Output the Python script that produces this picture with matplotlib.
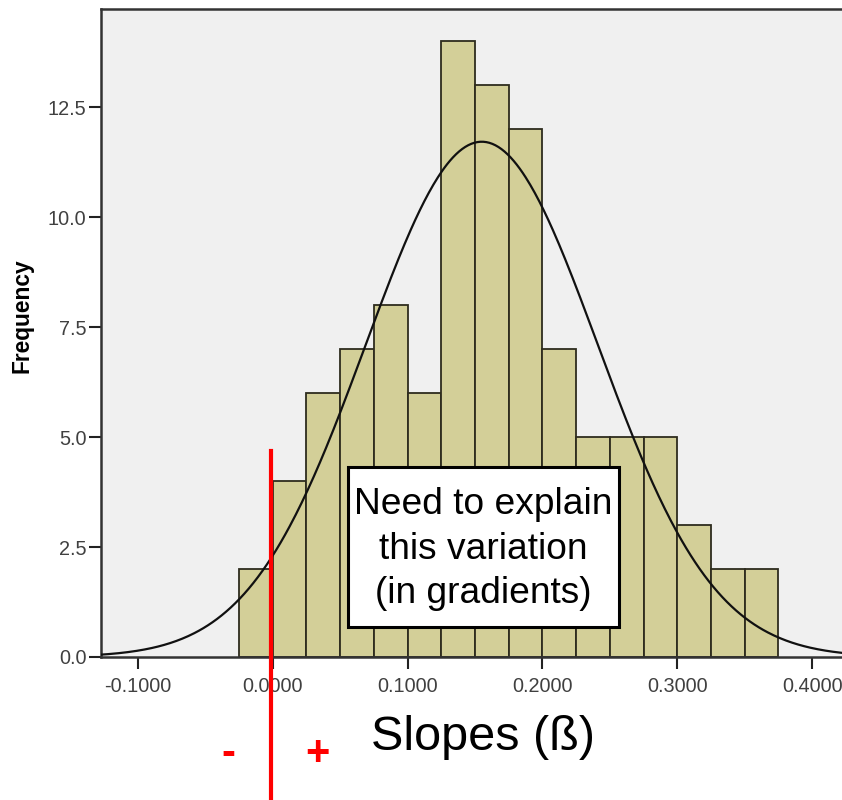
import numpy as np
import matplotlib
matplotlib.use("Agg")
import matplotlib.pyplot as plt
import matplotlib.transforms as mtransforms
from matplotlib.lines import Line2D
from matplotlib.patches import Rectangle

plt.rcParams['font.family'] = ['Liberation Sans', 'DejaVu Sans']

# histogram of slopes (bin width 0.025)
bin_edges = [-0.025, 0.0, 0.025, 0.05, 0.075, 0.1, 0.125, 0.15, 0.175,
             0.2, 0.225, 0.25, 0.275, 0.3, 0.325, 0.35, 0.375]
counts = [2, 4, 6, 7, 8, 6, 14, 13, 12, 7, 5, 5, 5, 3, 2, 2]

# fitted normal curve
curve_mean = 0.155
curve_sd = 0.086
n_obs = sum(counts)

x_ticks = [-0.1, 0.0, 0.1, 0.2, 0.3, 0.4]
y_ticks = [0.0, 2.5, 5.0, 7.5, 10.0, 12.5]

fig = plt.figure(figsize=(8.42, 8), dpi=100)
ax = fig.add_axes([101 / 842, 143 / 800, 744 / 842, 648 / 800])
ax.set_facecolor('#f0f0f0')

bw = bin_edges[1] - bin_edges[0]
ax.bar(bin_edges[:-1], counts, width=bw, align='edge',
       color='#d3cf98', edgecolor='#2e2c1e', linewidth=1.3, zorder=2)

xs = np.linspace(-0.13, 0.43, 500)
ys = n_obs * bw / (curve_sd * np.sqrt(2 * np.pi)) * np.exp(-0.5 * ((xs - curve_mean) / curve_sd) ** 2)
ax.plot(xs, ys, color='#111111', linewidth=1.6, zorder=3)

ax.set_xlim(-0.1274, 0.4244)
ax.set_ylim(0, 14.73)
ax.set_xticks(x_ticks)
ax.set_xticklabels([f"{v:.4f}" for v in x_ticks])
ax.set_yticks(y_ticks)
ax.set_yticklabels([f"{v:.1f}" for v in y_ticks])
ax.tick_params(axis='both', direction='out', length=8.6, width=1.5,
               color='#222222', labelsize=14.3, labelcolor='#404040')
ax.tick_params(axis='x', pad=5.5)
ax.tick_params(axis='y', pad=2)
for side in ['left', 'bottom', 'top', 'right']:
    ax.spines[side].set_color('#333333')
    ax.spines[side].set_linewidth(1.8)

fig.text(22 / 842, 1 - 316 / 800, 'Frequency', fontsize=16.4, fontweight='bold',
         rotation=90, ha='center', va='center')

# annotation box
ax.add_patch(Rectangle((0.0556, 0.68), 0.2015, 3.64, facecolor='white',
                       edgecolor='black', linewidth=2.2, zorder=5))
ax.text(0.1563, 2.45, 'Need to explain\nthis variation\n(in gradients)',
        ha='center', va='center', fontsize=26.7, color='black', zorder=6,
        linespacing=1.36)

# red zero line running below the axis
trans = mtransforms.blended_transform_factory(ax.transData, fig.transFigure)
fig.add_artist(Line2D([-0.0015, -0.0015], [1 - 451 / 800, 0.0],
                      transform=trans, color='#ff0000', linewidth=3, zorder=6))

fig.text(228 / 842, 1 - 765 / 800, '-', color='#ff0000', fontsize=30,
         fontweight='bold', ha='center', va='baseline')
fig.text(317 / 842, 1 - 765 / 800, '+', color='#ff0000', fontsize=30,
         fontweight='bold', ha='center', va='baseline')
fig.text(483 / 842, 1 - 737 / 800, 'Slopes (ß)', color='black', fontsize=35,
         ha='center', va='center')

fig.savefig('out.png', dpi=100)
